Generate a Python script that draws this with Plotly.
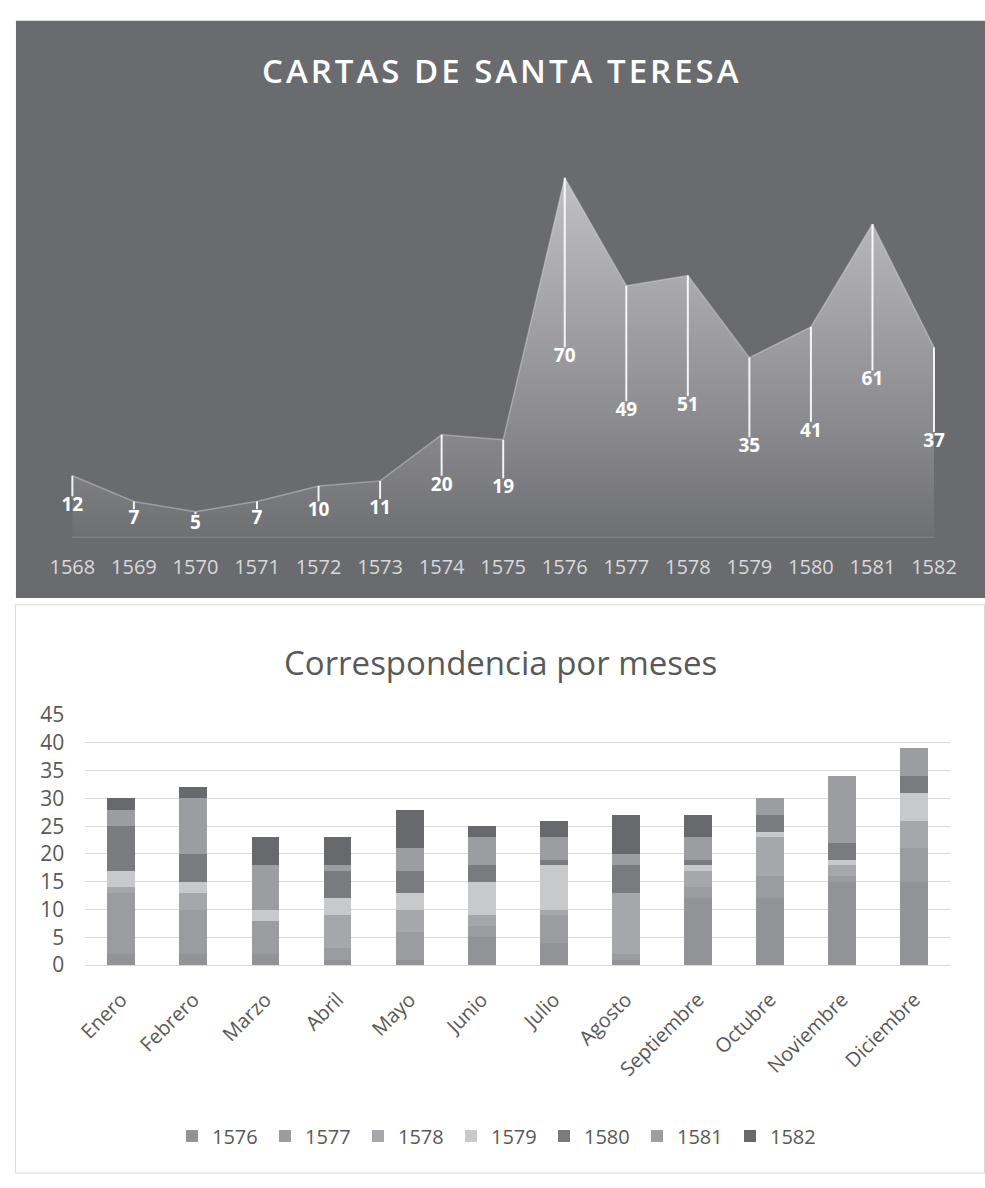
import plotly.graph_objects as go

# ---------------- data ----------------
years = [1568, 1569, 1570, 1571, 1572, 1573, 1574, 1575, 1576, 1577, 1578, 1579, 1580, 1581, 1582]
cartas = [12, 7, 5, 7, 10, 11, 20, 19, 70, 49, 51, 35, 41, 61, 37]

meses = ["Enero", "Febrero", "Marzo", "Abril", "Mayo", "Junio", "Julio",
         "Agosto", "Septiembre", "Octubre", "Noviembre", "Diciembre"]
serie_nombres = ["1576", "1577", "1578", "1579", "1580", "1581", "1582"]
s1576 = [2, 2, 2, 1, 1, 5, 4, 1, 12, 12, 15, 15]
s1577 = [11, 8, 6, 2, 5, 2, 5, 1, 2, 4, 1, 6]
s1578 = [1, 3, 0, 6, 4, 2, 1, 11, 3, 7, 2, 5]
s1579 = [3, 2, 2, 3, 3, 6, 8, 0, 1, 1, 1, 5]
s1580 = [8, 5, 0, 5, 4, 3, 1, 5, 1, 3, 3, 3]
s1581 = [3, 10, 8, 1, 4, 5, 4, 2, 4, 3, 12, 5]
s1582 = [2, 2, 5, 5, 7, 2, 3, 7, 4, 0, 0, 0]
series = [s1576, s1577, s1578, s1579, s1580, s1581, s1582]
colores = ["#929397", "#9b9ca0", "#a6a7aa", "#c8c9cb", "#7a7b7f", "#9c9da1", "#68696d"]

W, H = 985, 1188
FONT = "Open Sans"


def px_x(p):
    return p / W


def px_y(p):
    return 1 - p / H


fig = go.Figure()

# ---------------- top chart: area ----------------
fig.add_trace(go.Scatter(
    x=years, y=cartas, mode="lines", fill="tozeroy",
    line=dict(color="rgba(225,225,230,0.4)", width=1.5),
    fillgradient=dict(type="vertical", start=0, stop=max(cartas),
                      colorscale=[[0, "rgb(108,109,113)"], [0.3, "rgb(136,136,140)"],
                                  [1, "rgb(192,192,195)"]]),
    xaxis="x", yaxis="y", showlegend=False, hoverinfo="skip"))

# baseline
fig.add_trace(go.Scatter(
    x=[years[0], years[-1]], y=[0, 0], mode="lines",
    line=dict(color="rgba(140,141,145,1)", width=1.5),
    xaxis="x", yaxis="y", showlegend=False, hoverinfo="skip"))

# drop lines from the point to its label
lx, ly = [], []
for yr, v in zip(years, cartas):
    lx += [yr, yr, None]
    ly += [v, v / 2 + 2.0, None]
fig.add_trace(go.Scatter(
    x=lx, y=ly, mode="lines", line=dict(color="rgba(255,255,255,0.9)", width=2),
    xaxis="x", yaxis="y", showlegend=False, hoverinfo="skip"))

# data labels
fig.add_trace(go.Scatter(
    x=years, y=[v / 2 for v in cartas], mode="text",
    text=[str(v) for v in cartas], textposition="middle center",
    textfont=dict(family=FONT, size=19, color="white", weight=700),
    xaxis="x", yaxis="y", showlegend=False, hoverinfo="skip"))

# ---------------- bottom chart: stacked bars ----------------
for nombre, vals, col in zip(serie_nombres, series, colores):
    fig.add_trace(go.Bar(
        x=meses, y=vals, name=nombre, marker=dict(color=col, line=dict(width=0)),
        xaxis="x2", yaxis="y2"))

# ---------------- layout ----------------
x0_px, x1_px = 63, 933.5
per = (x1_px - x0_px) / (years[-1] - years[0])
xr = [years[0] - x0_px / per, years[0] + (W - x0_px) / per]
base_px, top_px, ppu = 535, 120, 5.26

fig.update_layout(
    width=W, height=H, margin=dict(l=0, r=0, t=0, b=0),
    paper_bgcolor="white", plot_bgcolor="rgba(0,0,0,0)",
    barmode="stack", bargap=0.615,
    font=dict(family=FONT, color="#595959"),
    xaxis=dict(domain=[0, 1], range=xr, tickvals=years, ticktext=[str(y) for y in years],
               showgrid=False, zeroline=False, showline=False, ticks="",
               tickfont=dict(family=FONT, size=20, color="#d9d9db"),
               ticklabelstandoff=16, anchor="y", fixedrange=True),
    yaxis=dict(domain=[px_y(base_px), px_y(top_px)],
               range=[0, (base_px - top_px) / ppu], visible=False, anchor="x"),
    xaxis2=dict(domain=[px_x(76), px_x(950)], anchor="y2", showgrid=False,
                showline=True, linecolor="#d9d9d9", linewidth=1, ticks="",
                tickangle=-45, tickfont=dict(family=FONT, size=20, color="#595959"),
                ticklabelstandoff=14),
    yaxis2=dict(domain=[px_y(973), px_y(717)], range=[0, 45], dtick=5, anchor="x2",
                showgrid=True, gridcolor="#d9d9d9", gridwidth=1, zeroline=False,
                showline=False, ticks="", tickfont=dict(family=FONT, size=21, color="#595959"),
                ticklabelstandoff=20),
    legend=dict(orientation="h", x=0.5, xanchor="center", y=px_y(1148), yanchor="middle",
                font=dict(family=FONT, size=20, color="#595959"),
                entrywidth=48, entrywidthmode="pixels", bgcolor="rgba(0,0,0,0)",
                traceorder="normal"),
    shapes=[
        dict(type="rect", xref="paper", yref="paper", x0=px_x(6), x1=1,
             y0=px_y(597), y1=px_y(6), fillcolor="#6a6b6f", line=dict(width=0), layer="below"),
        dict(type="rect", xref="paper", yref="paper", x0=px_x(5.5), x1=px_x(984.5),
             y0=px_y(1186), y1=px_y(604), fillcolor="white",
             line=dict(color="#d9d9d9", width=1), layer="below"),
    ],
    annotations=[
        dict(text='<span style="letter-spacing:3px">CARTAS DE SANTA TERESA</span>',
             xref="paper", yref="paper", x=px_x(497), y=px_y(57),
             xanchor="center", yanchor="middle", showarrow=False,
             font=dict(family=FONT, size=33, color="white", weight=600)),
        dict(text="Correspondencia por meses", xref="paper", yref="paper",
             x=px_x(496), y=px_y(663), xanchor="center", yanchor="middle", showarrow=False,
             font=dict(family=FONT, size=33, color="#595959")),
    ],
)

fig.write_html("out.html", post_script="document.body.style.margin='0';")
